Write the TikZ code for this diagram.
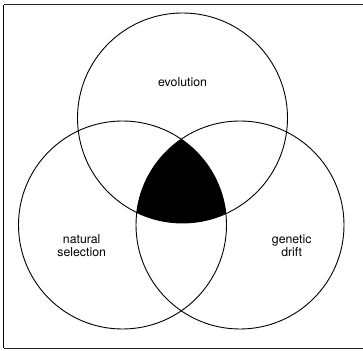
\documentclass[tikz,border=0pt]{standalone}
\usepackage{fontspec}
\setmainfont{TeX Gyre Heros}
\begin{document}
\begin{tikzpicture}[x=1pt,y=1pt,
  ring/.style={draw=black, line width=0.9pt},
  lbl/.style={font=\fontsize{12.3}{13.5}\selectfont, align=center, inner sep=0pt},
  frameline/.style={draw=black!85, line width=1pt}]
\useasboundingbox (0,0) rectangle (363,350);
\coordinate (cE) at (182.5,232);
\coordinate (cN) at (122.5,125);
\coordinate (cG) at (240,125);
% common region
\begin{scope}
  \clip (cE) circle (105);
  \clip (cN) circle (104);
  \fill[black] (cG) circle (104);
\end{scope}
\draw[ring] (cE) circle (105);
\draw[ring] (cN) circle (104);
\draw[ring] (cG) circle (104);
% labels
\node[lbl] (evo) at (182.5,268.3) {evolution};
\node[lbl] (nat) at (81.7,104.3) {natural\\selection};
\node[lbl] (gen) at (291.7,104.3) {genetic\\drift};
% frame
\coordinate (tl) at (3.5,345);
\coordinate (bl) at (3.5,2);
\coordinate (tr) at (363,345);
\coordinate (br) at (363,2);
\draw[frameline] (tl) -- (tr);
\draw[frameline] (bl) -- (br);
\draw[draw=black, line width=1.6pt] (bl) -- (tl);
\end{tikzpicture}
\end{document}
